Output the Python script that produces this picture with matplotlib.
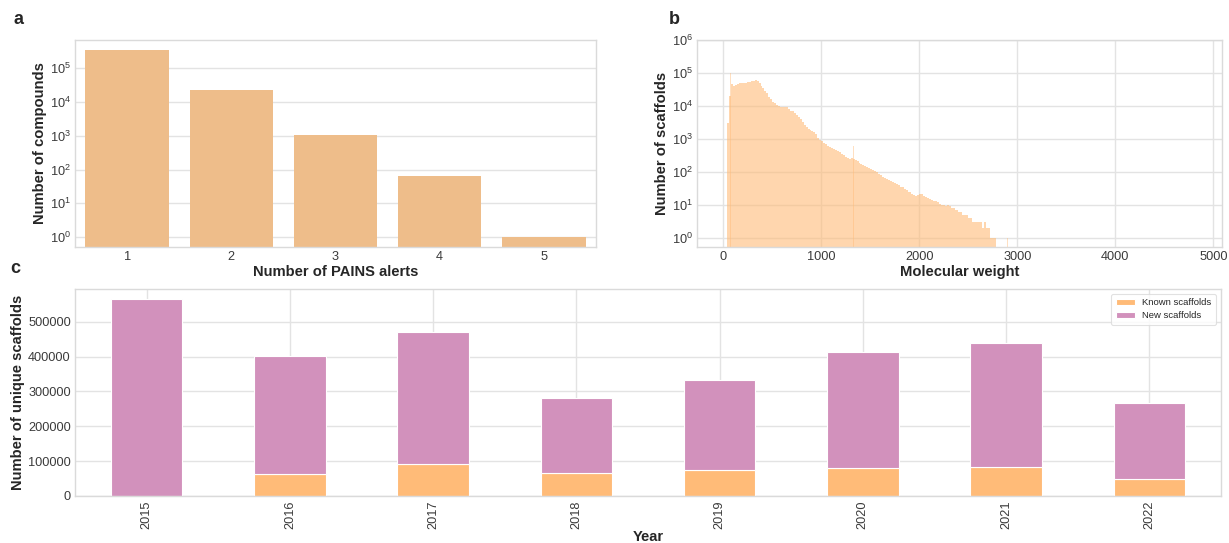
import numpy as np
import matplotlib
matplotlib.use("Agg")
import matplotlib.pyplot as plt
import seaborn as sns

sns.set_style("whitegrid")
plt.rcParams['font.family'] = ['Liberation Sans', 'DejaVu Sans']
plt.rcParams['mathtext.default'] = 'regular'

# ---------------- data ----------------
# panel a
pains_alerts = ["1", "2", "3", "4", "5"]
pains_counts = [346000, 23000, 1050, 63, 1]

# panel b: molecular-weight histogram (20 Da bins starting at 40 Da)
mw_bin_start = 40
mw_bin_width = 20
mw_counts = [
    3000, 20000, 45000, 40000, 42000, 45000, 48000, 48000, 49000, 50000,
    52000, 54000, 56000, 58000, 60000, 58000, 50000, 40000, 34000, 28000,
    24000, 19000, 16000, 13500, 12000, 10500, 9800, 9500, 9500, 9500,
    9000, 8000, 7200, 6800, 6000, 5300, 4600, 4000, 3200, 2700,
    2350, 2000, 1850, 1700, 1600, 1450, 1100, 950, 850, 780,
    680, 620, 580, 530, 500, 460, 430, 400, 350, 320,
    290, 270, 255, 260, 250, 230, 215, 190, 175, 160,
    150, 140, 130, 125, 115, 105, 98, 88, 78, 72,
    66, 60, 56, 52, 48, 45, 43, 39, 36, 34,
    31, 28, 25, 24, 22, 20, 19, 20, 21, 21,
    19, 17, 16, 15, 14, 13, 13, 12, 11, 10,
    10, 9, 10, 9, 8, 8, 7, 7, 6, 6,
    5, 5, 5, 4, 4, 3, 3, 3, 3, 3,
    2, 3, 2, 2, 1, 1, 1,
]
# isolated narrow spikes / sparse scaffolds (MW, count)
spike_mw = [73, 79, 100, 1330, 2244, 2650, 2854, 2900, 2945, 3109, 3200, 3241, 3333, 3772, 4711, 4826]
spike_counts = [100000, 500000, 70000, 600, 60, 8, 2, 1, 1, 1, 1, 2, 1, 1, 1, 2]

# panel c
years = ["2015", "2016", "2017", "2018", "2019", "2020", "2021", "2022"]
known_scaffolds = [0, 62500, 92000, 67000, 75000, 81500, 84500, 50000]
new_scaffolds = [566000, 340500, 379000, 214000, 258000, 332000, 354000, 216000]

# ---------------- styling ----------------
c_known = "#FFBB78"
c_new = "#D291BC"
c_pains = "#EEBD8A"
grid_c = "#E3E3E3"
frame_c = "#DADADA"
tick_c = "#3a3a3a"
tick_fs = 9.2
label_fs = 10.6

fig = plt.figure(figsize=(12.29, 5.43), dpi=100)
W, H = 1229, 543

def add_ax(l, r, t, b):
    return fig.add_axes([l / W, 1 - b / H, (r - l) / W, (b - t) / H])

axa = add_ax(75, 596, 40, 247)
axb = add_ax(697, 1222, 40, 247)
axc = add_ax(75, 1221, 289, 496)

for ax in (axa, axb, axc):
    for s in ax.spines.values():
        s.set_color(frame_c)
        s.set_linewidth(1.0)
    ax.grid(True, color=grid_c, linewidth=1.0)
    ax.set_axisbelow(True)
    ax.tick_params(colors=tick_c, labelsize=tick_fs, length=0, pad=3)

# ---- panel a ----
xa = np.arange(len(pains_alerts))
axa.bar(xa, pains_counts, width=0.8, color=c_pains, edgecolor="none")
axa.set_yscale("log")
axa.set_ylim(0.51, 6.9e5)
axa.set_xlim(-0.5, len(pains_alerts) - 0.5)
axa.set_xticks(xa)
axa.set_xticklabels(pains_alerts)
axa.xaxis.grid(False)
axa.yaxis.grid(True, which="major")
axa.yaxis.grid(False, which="minor")
axa.set_yticks([1, 10, 100, 1000, 1e4, 1e5])
axa.minorticks_off()
axa.set_xlabel("Number of PAINS alerts", fontsize=label_fs, fontweight="bold", labelpad=1)
axa.set_ylabel("Number of compounds", fontsize=label_fs, fontweight="bold", labelpad=2)

# ---- panel b ----
mw_left = mw_bin_start + mw_bin_width * np.arange(len(mw_counts))
axb.bar(mw_left, mw_counts, width=mw_bin_width, align="edge",
        color=c_known, alpha=0.6, edgecolor="none")
axb.bar(spike_mw, spike_counts, width=4, align="center",
        color=c_known, alpha=0.45, edgecolor="none")
axb.set_yscale("log")
axb.set_ylim(0.53, 1.0e6)
axb.set_xlim(-268, 5089)
axb.set_xticks([0, 1000, 2000, 3000, 4000, 5000])
axb.set_yticks([1, 10, 100, 1000, 1e4, 1e5, 1e6])
axb.minorticks_off()
axb.set_xlabel("Molecular weight", fontsize=label_fs, fontweight="bold", labelpad=1)
axb.set_ylabel("Number of scaffolds", fontsize=label_fs, fontweight="bold", labelpad=2)

# ---- panel c ----
xc = np.arange(len(years))
axc.bar(xc, known_scaffolds, width=0.5, color=c_known, edgecolor="white",
        linewidth=0.8, label="Known scaffolds")
axc.bar(xc, new_scaffolds, width=0.5, bottom=known_scaffolds, color=c_new,
        edgecolor="white", linewidth=0.8, label="New scaffolds")
axc.set_xlim(-0.5, len(years) - 0.5)
axc.set_ylim(0, 594000)
axc.set_xticks(xc)
axc.set_xticklabels(years, rotation=90)
axc.set_yticks([0, 100000, 200000, 300000, 400000, 500000])
axc.set_yticklabels(["0", "100000", "200000", "300000", "400000", "500000"])
axc.set_xlabel("Year", fontsize=label_fs, fontweight="bold", labelpad=1)
axc.set_ylabel("Number of unique scaffolds", fontsize=label_fs, fontweight="bold", labelpad=2)
leg = axc.legend(loc="upper right", fontsize=6.8, frameon=True, fancybox=True,
                 borderpad=0.5, handlelength=2.0, labelspacing=0.4)
leg.get_frame().set_edgecolor(frame_c)
leg.get_frame().set_linewidth(0.8)

# panel letters
fig.text(19 / W, 1 - 20 / H, "a", fontsize=13, fontweight="bold", ha="center", va="center")
fig.text(674 / W, 1 - 19 / H, "b", fontsize=13, fontweight="bold", ha="center", va="center")
fig.text(15 / W, 1 - 268 / H, "c", fontsize=13, fontweight="bold", ha="center", va="center")

fig.savefig("out.png", dpi=100)
